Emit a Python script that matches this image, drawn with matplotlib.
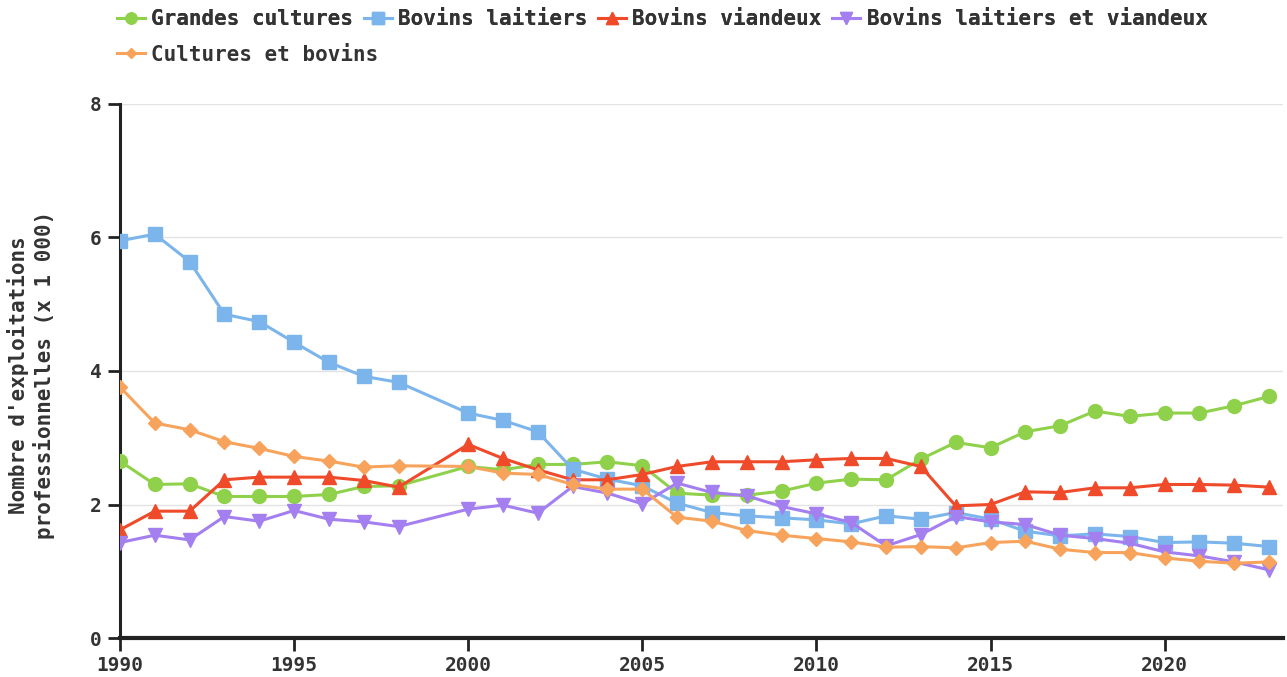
import matplotlib.pyplot as plt
from matplotlib.lines import Line2D

years = [1990, 1991, 1992, 1993, 1994, 1995, 1996, 1997, 1998,
         2000, 2001, 2002, 2003, 2004, 2005, 2006, 2007, 2008, 2009, 2010, 2011,
         2012, 2013, 2014, 2015, 2016, 2017, 2018, 2019, 2020, 2021, 2022, 2023]

grandes_cultures = [2.65, 2.30, 2.31, 2.12, 2.12, 2.12, 2.15, 2.27, 2.28,
                    2.57, 2.52, 2.60, 2.60, 2.64, 2.58, 2.17, 2.14, 2.14, 2.20, 2.32, 2.38,
                    2.37, 2.68, 2.93, 2.85, 3.09, 3.18, 3.40, 3.32, 3.37, 3.37, 3.48, 3.62]
bovins_laitiers = [5.95, 6.05, 5.64, 4.85, 4.74, 4.43, 4.13, 3.92, 3.83,
                   3.37, 3.26, 3.09, 2.53, 2.38, 2.28, 2.02, 1.88, 1.83, 1.80, 1.77, 1.71,
                   1.83, 1.78, 1.88, 1.78, 1.60, 1.53, 1.56, 1.52, 1.43, 1.44, 1.42, 1.37]
bovins_viandeux = [1.62, 1.90, 1.90, 2.37, 2.41, 2.41, 2.41, 2.36, 2.26,
                   2.90, 2.69, 2.52, 2.37, 2.37, 2.45, 2.57, 2.64, 2.64, 2.64, 2.67, 2.69,
                   2.69, 2.57, 1.98, 2.00, 2.19, 2.18, 2.25, 2.25, 2.30, 2.30, 2.29, 2.26]
laitiers_viandeux = [1.43, 1.54, 1.47, 1.82, 1.75, 1.91, 1.78, 1.74, 1.67,
                     1.93, 1.99, 1.87, 2.27, 2.17, 2.01, 2.32, 2.18, 2.13, 1.97, 1.86, 1.73,
                     1.38, 1.55, 1.82, 1.74, 1.70, 1.54, 1.49, 1.42, 1.29, 1.23, 1.14, 1.02]
cultures_bovins = [3.76, 3.22, 3.12, 2.94, 2.84, 2.72, 2.65, 2.56, 2.58,
                   2.57, 2.47, 2.45, 2.30, 2.23, 2.23, 1.81, 1.75, 1.61, 1.54, 1.49, 1.44,
                   1.36, 1.37, 1.35, 1.43, 1.45, 1.33, 1.28, 1.28, 1.20, 1.15, 1.12, 1.14]

labels = ["Grandes cultures", "Bovins laitiers", "Bovins viandeux",
          "Bovins laitiers et viandeux", "Cultures et bovins"]
colors = ["#8fd14a", "#7cb5ec", "#ef4b2a", "#a47ff0", "#f7a35c"]
markers = ["o", "s", "^", "v", "D"]
msizes = [10, 10, 10, 10, 7]

plt.rcParams['font.family'] = ['DejaVu Sans Mono']
plt.rcParams['font.weight'] = 'bold'

fig = plt.figure(figsize=(12.87, 6.77), dpi=100)
ax = fig.add_axes([0.0932, 0.0576, 0.9037, 0.7888])

series = [grandes_cultures, bovins_laitiers, bovins_viandeux, laitiers_viandeux, cultures_bovins]
handles = []
for vals, lab, c, m, ms in zip(series, labels, colors, markers, msizes):
    ax.plot(years, vals, color=c, lw=2.2, marker=m, markersize=ms, zorder=3)
    handles.append(Line2D([], [], color=c, lw=2.2, marker=m, markersize=ms * 0.8))

ax.set_xlim(1990, 2023.4)
ax.set_ylim(0, 8)
ax.set_yticks([0, 2, 4, 6, 8])
ax.set_xticks([1990, 1995, 2000, 2005, 2010, 2015, 2020])
ax.grid(axis='y', color='#e3e3e3', lw=1)
ax.set_axisbelow(True)
for s in ['top', 'right']:
    ax.spines[s].set_visible(False)
ax.spines['left'].set_linewidth(2.2)
ax.spines['bottom'].set_linewidth(3)
ax.spines['left'].set_color('#222222')
ax.spines['bottom'].set_color('#222222')
ax.tick_params(axis='both', length=9, width=2, color='#222222', labelsize=14,
               labelcolor='#333333', pad=4)
ax.set_ylabel("Nombre d'exploitations\nprofessionnelles (x 1 000)", fontsize=15,
              fontweight='bold', color='#333333', linespacing=1.25)
ax.yaxis.set_label_coords(-0.0765, 0.4925)
ax.yaxis.label.set_verticalalignment('center')

leg_kw = dict(frameon=False, fontsize=15, handlelength=1.35, handletextpad=0.3,
              borderpad=0, borderaxespad=0, labelcolor='#333333')
leg1 = fig.legend(handles[:4], labels[:4], loc='upper left', bbox_to_anchor=(0.091, 0.986),
                  ncol=4, columnspacing=0.5, **leg_kw)
leg2 = fig.legend(handles[4:], labels[4:], loc='upper left', bbox_to_anchor=(0.091, 0.934),
                  **leg_kw)
fig.add_artist(leg1)

fig.savefig("out.png", dpi=100)
